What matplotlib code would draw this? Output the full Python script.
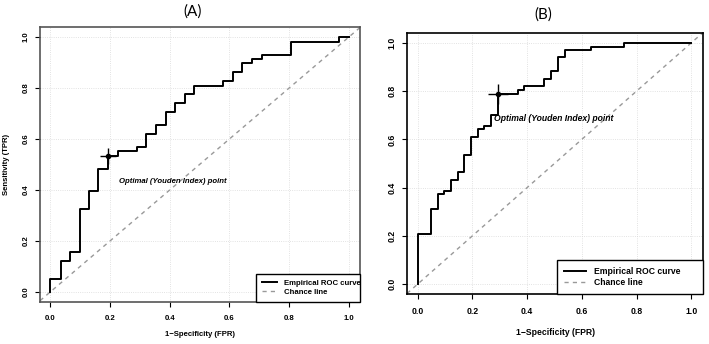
import numpy as np
import matplotlib
matplotlib.use("Agg")
import matplotlib.pyplot as plt

plt.rcParams['font.family'] = ['Liberation Sans', 'DejaVu Sans']

# panel A: empirical ROC steps (FPR, TPR)
fpr_a = [0, 0, 0.034, 0.065, 0.098, 0.13, 0.161, 0.194, 0.225, 0.289, 0.322, 0.354,
         0.387, 0.419, 0.45, 0.483, 0.58, 0.611, 0.643, 0.676, 0.709, 0.805, 0.967, 1.0]
tpr_a = [0, 0.052, 0.12, 0.155, 0.327, 0.396, 0.482, 0.535, 0.553, 0.570, 0.62, 0.656,
         0.706, 0.74, 0.775, 0.81, 0.828, 0.862, 0.897, 0.914, 0.932, 0.983, 1.0, 1.0]
opt_a = (0.194, 0.535)

# panel B
fpr_b = [0, 0, 0.049, 0.073, 0.098, 0.122, 0.146, 0.171, 0.195, 0.22, 0.244, 0.268,
         0.293, 0.366, 0.39, 0.463, 0.488, 0.512, 0.537, 0.634, 0.756, 1.0]
tpr_b = [0, 0.209, 0.312, 0.373, 0.385, 0.433, 0.464, 0.536, 0.611, 0.641, 0.656, 0.70,
         0.79, 0.805, 0.821, 0.851, 0.882, 0.941, 0.97, 0.985, 1.0, 1.0]
opt_b = (0.293, 0.79)

ticks = [0.0, 0.2, 0.4, 0.6, 0.8, 1.0]
tick_labels = ['0.0', '0.2', '0.4', '0.6', '0.8', '1.0']
opt_text = 'Optimal (Youden Index) point'

W, H = 709, 344
fig = plt.figure(figsize=(W / 100, H / 100), dpi=100)


def px_axes(l, r, t, b):
    return fig.add_axes([l / W, 1 - b / H, (r - l) / W, (b - t) / H])


def roc_panel(ax, fpr, tpr, opt, txt_pos, fs, lw, cross, xlim, ylim, spine_col,
              xlab_y, leg_x0, hlen, tpad, bpad):
    ax.set_xlim(*xlim)
    ax.set_ylim(*ylim)
    ax.grid(True, color='#d9d9d9', linestyle=':', linewidth=0.6)
    ax.set_axisbelow(True)
    ax.axline((0, 0), (1, 1), color='#999999', linestyle=(0, (3, 3)), linewidth=1.0,
              label='Chance line')
    ax.plot(fpr, tpr, drawstyle='steps-post', color='black', linewidth=lw,
            label='Empirical ROC curve')
    ax.plot(*opt, marker='+', markersize=cross, markeredgewidth=1.0, color='black')
    ax.plot(*opt, marker='o', markersize=3, color='black')
    ax.text(txt_pos[0], txt_pos[1], opt_text, fontsize=fs, fontweight='bold',
            fontstyle='italic', ha='left', va='center')
    ax.set_xticks(ticks)
    ax.set_xticklabels(tick_labels, fontsize=fs, fontweight='bold')
    ax.set_yticks(ticks)
    ax.set_yticklabels(tick_labels, fontsize=fs, fontweight='bold',
                       rotation=90, va='center')
    ax.tick_params(axis='x', direction='out', length=3.5, width=0.8, pad=6)
    ax.tick_params(axis='y', direction='out', length=3.5, width=0.8, pad=4)
    ax.set_xlabel('1\u2212Specificity (FPR)', fontsize=fs, fontweight='bold')
    ax.xaxis.set_label_coords(0.5, xlab_y)
    for s in ax.spines.values():
        s.set_color(spine_col)
        s.set_linewidth(1.2)
    h, l = ax.get_legend_handles_labels()
    leg = ax.legend(h[::-1], l[::-1], loc='lower right', mode='expand',
                    bbox_to_anchor=(leg_x0, 0, 1 - leg_x0, 0), borderaxespad=0,
                    fancybox=False, edgecolor='black', framealpha=1,
                    prop={'weight': 'bold', 'size': fs},
                    handlelength=hlen, borderpad=bpad, labelspacing=0.15,
                    handletextpad=tpad)
    leg.get_frame().set_linewidth(1.0)


ax1 = px_axes(40, 360, 27, 302)
roc_panel(ax1, fpr_a, tpr_a, opt_a, (0.229, 0.434), 5.6, 1.4, 11,
          (-0.035, 1.038), (-0.04, 1.04), '#555555', -0.105,
          0.675, 1.95, 0.8, 0.8)
ax1.set_ylabel('Sensitivity (TPR)', fontsize=5.6, fontweight='bold')
ax1.yaxis.set_label_coords(-0.094, 0.5)
fig.text(193 / W, 1 - 12 / H, '(A)', fontsize=11, family='Lato', ha='center', va='center')

ax2 = px_axes(407, 703, 33, 294)
roc_panel(ax2, fpr_b, tpr_b, opt_b, (0.28, 0.688), 6.2, 1.4, 15,
          (-0.039, 1.043), (-0.041, 1.041), 'black', -0.13,
          0.506, 2.5, 1.0, 0.85)
fig.text(543 / W, 1 - 15 / H, '(B)', fontsize=11, family='Lato', ha='center', va='center')

fig.savefig('out.png', dpi=100)
